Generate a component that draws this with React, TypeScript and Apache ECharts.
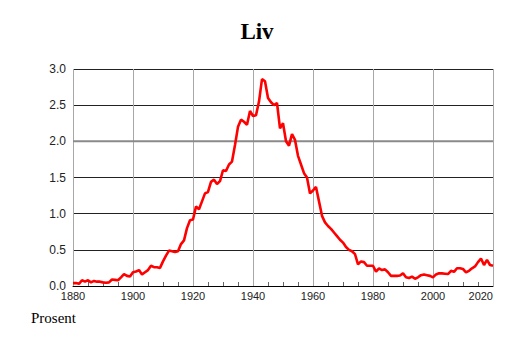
import React, { useEffect, useRef } from "react";
import * as echarts from "echarts";

const startYear = 1880;
const values: number[] = [
  // 1880-1889
  0.04, 0.04, 0.03, 0.08, 0.06, 0.08, 0.05, 0.07, 0.06, 0.06,
  // 1890-1899
  0.05, 0.045, 0.05, 0.09, 0.085, 0.08, 0.12, 0.165, 0.14, 0.13,
  // 1900-1909
  0.19, 0.2, 0.22, 0.16, 0.19, 0.22, 0.28, 0.26, 0.26, 0.25,
  // 1910-1919
  0.34, 0.42, 0.49, 0.48, 0.47, 0.48, 0.58, 0.63, 0.8, 0.91,
  // 1920-1929
  0.92, 1.1, 1.06, 1.17, 1.28, 1.3, 1.44, 1.47, 1.41, 1.45,
  // 1930-1939
  1.6, 1.59, 1.68, 1.72, 1.95, 2.2, 2.3, 2.27, 2.23, 2.42,
  // 1940-1949
  2.35, 2.36, 2.55, 2.86, 2.83, 2.6, 2.54, 2.5, 2.53, 2.18,
  // 1950-1959
  2.25, 2.0, 1.94, 2.1, 2.02, 1.8, 1.68, 1.56, 1.5, 1.28,
  // 1960-1969
  1.32, 1.37, 1.17, 0.97, 0.88, 0.83, 0.79, 0.74, 0.69, 0.64,
  // 1970-1979
  0.6, 0.54, 0.5, 0.48, 0.44, 0.3, 0.34, 0.33, 0.28, 0.28,
  // 1980-1989
  0.28, 0.2, 0.245, 0.22, 0.23, 0.19, 0.14, 0.14, 0.14, 0.145,
  // 1990-1999
  0.175, 0.12, 0.11, 0.13, 0.1, 0.12, 0.15, 0.16, 0.15, 0.14,
  // 2000-2009
  0.12, 0.16, 0.175, 0.175, 0.17, 0.165, 0.21, 0.195, 0.245, 0.245,
  // 2010-2019
  0.235, 0.19, 0.21, 0.245, 0.27, 0.33, 0.38, 0.29, 0.36, 0.29,
  // 2020
  0.28,
];
const referenceLine: [number, number][] = [
  [1880, 2.0],
  [2020, 2.0],
];
const titleText = "Liv";
const unitText = "Prosent";

export default function App() {
  const ref = useRef<HTMLDivElement>(null);
  useEffect(() => {
    document.body.style.margin = "0";
    if (!ref.current) return;
    const chart = echarts.init(ref.current, undefined, { renderer: "svg" });
    const data = values.map((v, i) => [startYear + i, v]);
    chart.setOption({
      animation: false,
      backgroundColor: "#ffffff",
      title: [
        {
          text: titleText,
          left: "center",
          top: 20,
          padding: 0,
          textStyle: {
            fontFamily: "Liberation Serif",
            fontWeight: "bold",
            fontSize: 23,
            color: "#000",
          },
        },
        {
          text: unitText,
          left: 31,
          top: 310,
          padding: 0,
          textStyle: {
            fontFamily: "Liberation Serif",
            fontWeight: "normal",
            fontSize: 15,
            color: "#000",
          },
        },
      ],
      grid: { left: 73, right: 21, top: 69, bottom: 57, containLabel: false },
      xAxis: {
        type: "value",
        min: 1880,
        max: 2020,
        interval: 20,
        axisLine: { show: true, lineStyle: { color: "#000", width: 1 } },
        axisTick: { show: false, inside: true },
        minorTick: { show: true, splitNumber: 4, length: 4, lineStyle: { color: "#666" } },
        axisLabel: {
          fontFamily: "Liberation Sans",
          fontSize: 11,
          color: "#222",
          margin: 4,
          alignMaxLabel: "right",
          formatter: (v: number) => String(v),
        },
        splitLine: { show: true, lineStyle: { color: "#a8a8a8", width: 1 } },
      },
      yAxis: {
        type: "value",
        min: 0,
        max: 3,
        interval: 0.5,
        axisLine: { show: false },
        axisTick: { show: false },
        axisLabel: {
          fontFamily: "Liberation Sans",
          fontSize: 12,
          color: "#222",
          margin: 7,
          formatter: (v: number) => v.toFixed(1),
        },
        splitLine: { show: true, lineStyle: { color: "#222", width: 1 } },
      },
      series: [
        {
          type: "line",
          data: referenceLine,
          symbol: "none",
          silent: true,
          z: 1,
          lineStyle: { color: "#8a8a8a", width: 2 },
        },
        {
          type: "line",
          data,
          symbol: "none",
          z: 3,
          lineStyle: { color: "#ff0000", width: 2.6 },
        },
      ],
    });
    return () => chart.dispose();
  }, []);
  return <div ref={ref} style={{ width: 514, height: 343 }} />;
}
